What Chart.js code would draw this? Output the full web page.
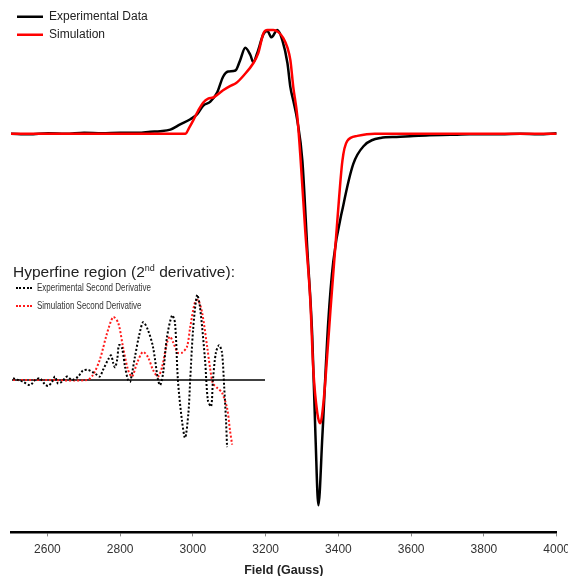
<!DOCTYPE html>
<html>
<head>
<meta charset="utf-8">
<script src="https://cdn.jsdelivr.net/npm/chart.js@4.4.1/dist/chart.umd.min.js"></script>
<style>
  html, body { margin: 0; padding: 0; background: #fff; overflow: hidden; }
  #wrap { position: relative; width: 568px; height: 576px; overflow: hidden; }
  #mainChart { position: absolute; left: 0; top: 0; }
  #insetChart { position: absolute; left: 0; top: 275px; }
  #insetTitle {
    position: absolute; left: 13px; top: 263px;
    font-family: 'Liberation Sans', Arial, sans-serif; font-size: 15.5px; color: #222;
    line-height: 17px; white-space: nowrap;
  }
  #insetTitle sup { font-size: 9px; line-height: 0; }
  .ilg {
    position: absolute; left: 16px; height: 12px; line-height: 12px; white-space: nowrap;
    font-family: 'Liberation Sans', Arial, sans-serif; font-size: 10px; color: #333;
  }
  .ilg .mark { display: inline-block; width: 16px; height: 0; border-top: 2px dotted; vertical-align: middle; }
  .ilg .txt { display: inline-block; margin-left: 5px; transform: scaleX(0.8); transform-origin: left center; }
</style>
</head>
<body>
<div id="wrap">
  <canvas id="mainChart" width="576" height="576"></canvas>
  <canvas id="insetChart" width="270" height="185"></canvas>
  <div id="insetTitle">Hyperfine region (2<sup>nd</sup> derivative):</div>
  <div class="ilg" style="top:282px"><span class="mark" style="border-color:#000"></span><span class="txt">Experimental Second Derivative</span></div>
  <div class="ilg" style="top:300px"><span class="mark" style="border-color:#ff1a1a"></span><span class="txt">Simulation Second Derivative</span></div>
</div>
<script>
// ---- main spectrum (first derivative), intensity normalised to the positive peak ----
const expField = [2500, 2550, 2602, 2650, 2701, 2750, 2800, 2850, 2883, 2910, 2938, 2965, 2993, 3012, 3028,
  3048, 3067, 3083, 3097, 3117, 3130, 3144, 3158, 3166, 3177, 3194, 3205, 3216, 3232, 3246, 3260, 3268, 3276,
  3287, 3301, 3315, 3328, 3337, 3345, 3356, 3372, 3386, 3414, 3441, 3469, 3516, 3560, 3606, 3650, 3708, 3760,
  3846, 3900, 3950, 4000];
const expSignal = [0, -0.005, 0.005, 0, 0.01, 0.005, 0.01, 0.01, 0.02, 0.025, 0.04, 0.09, 0.14, 0.19, 0.27,
  0.31, 0.40, 0.55, 0.60, 0.61, 0.71, 0.83, 0.76, 0.69, 0.78, 0.96, 0.99, 0.93, 1.00, 0.90, 0.68, 0.45, 0.32,
  0.13, -0.26, -1.14, -1.94, -2.91, -3.58, -2.91, -1.82, -1.23, -0.68, -0.29, -0.12, -0.04, -0.03, -0.02, -0.015,
  -0.01, -0.005, -0.005, 0, -0.005, 0.005];

const simField = [2500, 2700, 2900, 2960, 2979, 2990, 3001, 3014, 3028, 3042, 3056, 3083, 3102, 3119, 3139,
  3166, 3180, 3194, 3205, 3221, 3235, 3249, 3260, 3268, 3276, 3287, 3295, 3309, 3323, 3331, 3342, 3350, 3359,
  3370, 3378, 3397, 3411, 3424, 3452, 3500, 3700, 4000];
const simSignal = [0, 0, 0, 0, 0, 0.06, 0.13, 0.22, 0.30, 0.34, 0.35, 0.42, 0.46, 0.49, 0.56,
  0.68, 0.78, 0.97, 1.00, 1.00, 0.98, 0.92, 0.83, 0.71, 0.45, 0.17, -0.19, -0.94, -1.62, -2.27, -2.69, -2.79, -2.59,
  -2.10, -1.71, -0.84, -0.26, -0.07, -0.02, 0, 0, 0];

const fieldTicks = [2600, 2800, 3000, 3200, 3400, 3600, 3800, 4000];

// ---- inset: hyperfine region, second derivative ----
const d2ExpField = [2503, 2517, 2530, 2550, 2564, 2577, 2591, 2600, 2611, 2619, 2627, 2638, 2652, 2666, 2683,
  2696, 2710, 2724, 2735, 2743, 2752, 2766, 2774, 2780, 2785, 2791, 2796, 2804, 2813, 2821, 2827, 2840, 2852,
  2863, 2876, 2890, 2904, 2910, 2918, 2929, 2943, 2951, 2959, 2970, 2979, 2988, 2993, 3001, 3012, 3020, 3034,
  3042, 3051, 3056, 3064, 3073, 3081, 3087, 3092, 3095];
const d2ExpSignal = [0.02, 0, -0.02, -0.06, 0, 0.02, -0.05, -0.07, -0.02, 0.04, -0.04, -0.02, 0.04, 0, 0.04,
  0.11, 0.12, 0.09, 0.06, 0.04, 0.12, 0.24, 0.29, 0.20, 0.15, 0.24, 0.41, 0.38, 0.15, 0, -0.02, 0.27, 0.53,
  0.68, 0.59, 0.39, 0, -0.06, 0.08, 0.51, 0.76, 0.67, 0, -0.47, -0.68, -0.39, 0, 0.59, 1.00, 0.86, 0.24,
  -0.24, -0.31, 0, 0.32, 0.41, 0.32, -0.08, -0.47, -0.79];

const d2SimField = [2503, 2600, 2708, 2724, 2743, 2763, 2780, 2794, 2807, 2821, 2832, 2846, 2862, 2876, 2890,
  2904, 2915, 2929, 2937, 2945, 2959, 2970, 2984, 2993, 3006, 3015, 3026, 3040, 3048, 3056, 3067, 3081, 3095,
  3103, 3109];
const d2SimSignal = [0, 0, 0, 0.06, 0.24, 0.55, 0.74, 0.67, 0.39, 0.12, 0.04, 0.20, 0.33, 0.27, 0.12,
  0.04, 0.15, 0.44, 0.51, 0.45, 0.32, 0.32, 0.39, 0.62, 0.91, 0.94, 0.79, 0.39, 0.14, -0.04, -0.09, -0.15, -0.33,
  -0.59, -0.76];

const insetBaseField = [2500, 3200];

function toPoints(xs, ys) {
  return xs.map((x, i) => ({ x: x, y: ys[i] }));
}

Chart.defaults.font.family = "'Liberation Sans', Arial, sans-serif";
Chart.defaults.color = '#222';
Chart.defaults.animation = false;

new Chart(document.getElementById('mainChart'), {
  type: 'line',
  data: {
    datasets: [
      { label: 'Experimental Data', data: toPoints(expField, expSignal), borderColor: '#000', backgroundColor: '#000',
        borderWidth: 2.5, pointRadius: 0, cubicInterpolationMode: 'monotone', order: 1 },
      { label: 'Simulation', data: toPoints(simField, simSignal), borderColor: '#f00', backgroundColor: '#f00',
        borderWidth: 2.5, pointRadius: 0, cubicInterpolationMode: 'monotone', order: 0 }
    ]
  },
  options: {
    responsive: false,
    layout: { padding: { left: 11, top: 9.5, right: 0, bottom: -1.8 } },
    plugins: {
      tooltip: { enabled: false },
      legend: {
        position: 'chartArea', align: 'start',
        title: { display: true, text: ' ', font: { size: 4 }, padding: 0 },
        labels: {
          usePointStyle: true, pointStyle: 'line', pointStyleWidth: 26, boxWidth: 26, boxHeight: 12,
          padding: 6, font: { size: 12 }, color: '#222',
          sort: (a, b) => a.datasetIndex - b.datasetIndex
        }
      }
    },
    scales: {
      x: {
        type: 'linear', min: 2500, max: 4000,
        afterBuildTicks: s => { s.ticks = fieldTicks.map(v => ({ value: v })); },
        grid: { display: true, drawOnChartArea: false, drawTicks: true, tickLength: 4, tickColor: '#888', color: '#888' },
        border: { display: true, color: '#000', width: 2.5 },
        ticks: { padding: 6, color: '#333', font: { size: 12 }, maxRotation: 0, callback: v => String(v) },
        title: { display: true, text: 'Field (Gauss)', color: '#222', font: { size: 12.5, weight: 'bold' },
          padding: { top: 0, bottom: 0 } }
      },
      y: { display: false, min: -3.841, max: 1.198 }
    }
  }
});

new Chart(document.getElementById('insetChart'), {
  type: 'line',
  data: {
    datasets: [
      { label: 'Experimental Second Derivative', data: toPoints(d2ExpField, d2ExpSignal), borderColor: '#000',
        borderWidth: 2, borderDash: [2, 2], pointRadius: 0, tension: 0.3 },
      { label: 'Simulation Second Derivative', data: toPoints(d2SimField, d2SimSignal), borderColor: '#ff1a1a',
        borderWidth: 2, borderDash: [2, 2], pointRadius: 0, tension: 0.3 },
      { label: 'baseline', data: toPoints(insetBaseField, [0, 0]), borderColor: '#000', borderWidth: 1.3,
        pointRadius: 0, order: 5 }
    ]
  },
  options: {
    responsive: false,
    layout: { padding: { left: 8, top: 0, right: 0, bottom: 0 } },
    plugins: { tooltip: { enabled: false }, legend: { display: false } },
    scales: {
      x: { type: 'linear', display: false, min: 2488.9, max: 3213.8 },
      y: { display: false, min: -0.941, max: 1.235 }
    }
  }
});
</script>
</body>
</html>
